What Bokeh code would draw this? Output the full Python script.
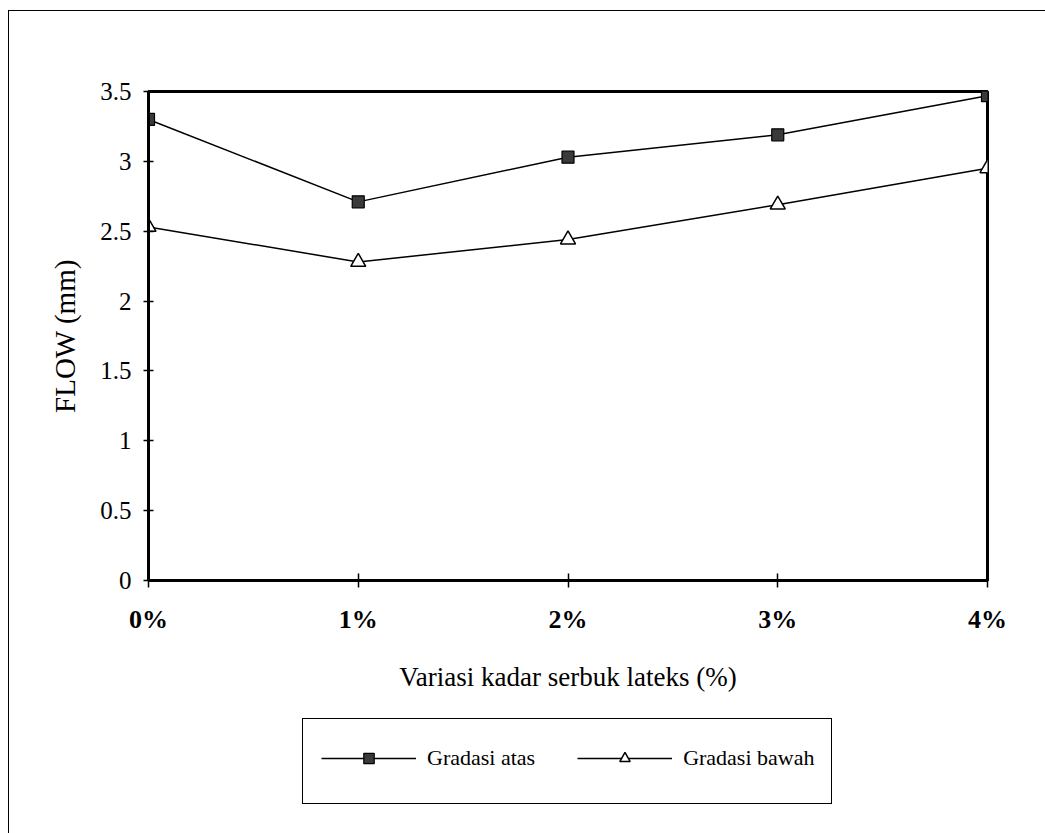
from bokeh.plotting import figure
from bokeh.layouts import column
from bokeh.models import Range1d, FixedTicker, Legend, LegendItem, InlineStyleSheet
from bokeh.embed import file_html
from bokeh.resources import INLINE

# ---- data ----
categories = ["0%", "1%", "2%", "3%", "4%"]
x_pos = [0, 1, 2, 3, 4]
gradasi_atas = [3.30, 2.71, 3.03, 3.19, 3.47]
gradasi_bawah = [2.53, 2.28, 2.44, 2.69, 2.95]
y_ticks = [0, 0.5, 1, 1.5, 2, 2.5, 3, 3.5]
y_tick_labels = ["0", "0.5", "1", "1.5", "2", "2.5", "3", "3.5"]
series_names = ["Gradasi atas", "Gradasi bawah"]

FONT = "Liberation Serif"
TOP_H = 700

p = figure(width=1045, height=TOP_H, output_backend="svg", toolbar_location=None,
           x_range=Range1d(0, 4), y_range=Range1d(0, 3.5),
           min_border_left=148, min_border_right=58,
           min_border_top=91, min_border_bottom=TOP_H - 580)

p.background_fill_color = "white"
p.border_fill_color = None
p.xgrid.visible = False
p.ygrid.visible = False
p.outline_line_color = "black"
p.outline_line_width = 3

# x axis
p.xaxis.ticker = FixedTicker(ticks=x_pos)
p.xaxis.major_label_overrides = {x: c for x, c in zip(x_pos, categories)}
p.xaxis.axis_label = "Variasi kadar serbuk lateks (%)"
p.xaxis.axis_line_width = 3
p.xaxis.major_tick_in = 7
p.xaxis.major_tick_out = 7
p.xaxis.major_tick_line_width = 1.5
p.xaxis.minor_tick_line_color = None
p.xaxis.major_label_standoff = 17
p.xaxis.major_label_text_font = FONT
p.xaxis.major_label_text_font_size = "26px"
p.xaxis.major_label_text_font_style = "bold"
p.xaxis.major_label_text_color = "black"
p.xaxis.axis_label_standoff = 25
p.xaxis.axis_label_text_font = FONT
p.xaxis.axis_label_text_font_size = "27px"
p.xaxis.axis_label_text_font_style = "normal"
p.xaxis.axis_label_text_color = "black"

# y axis
p.yaxis.ticker = FixedTicker(ticks=y_ticks)
p.yaxis.major_label_overrides = {t: l for t, l in zip(y_ticks, y_tick_labels)}
p.yaxis.axis_label = "FLOW (mm)"
p.yaxis.axis_line_width = 3
p.yaxis.major_tick_in = 5
p.yaxis.major_tick_out = 5
p.yaxis.major_tick_line_width = 1.5
p.yaxis.minor_tick_line_color = None
p.yaxis.major_label_standoff = 12
p.yaxis.major_label_text_font = FONT
p.yaxis.major_label_text_font_size = "25px"
p.yaxis.major_label_text_color = "black"
p.yaxis.axis_label_standoff = 16
p.yaxis.axis_label_text_font = FONT
p.yaxis.axis_label_text_font_size = "29px"
p.yaxis.axis_label_text_font_style = "normal"
p.yaxis.axis_label_text_color = "black"


def draw_series(fig):
    l1 = fig.line(x_pos, gradasi_atas, line_color="black", line_width=1.5)
    s1 = fig.scatter(x_pos, gradasi_atas, marker="square", size=12,
                     fill_color="#3a3a3a", line_color="black", line_width=1.2)
    l2 = fig.line(x_pos, gradasi_bawah, line_color="black", line_width=1.5)
    s2 = fig.scatter(x_pos, gradasi_bawah, marker="triangle", size=15,
                     fill_color="white", line_color="black", line_width=1.5)
    return (l1, s1), (l2, s2)


draw_series(p)

# ---- legend strip below the chart ----
leg_fig = figure(width=1045, height=833 - TOP_H, output_backend="svg", toolbar_location=None,
                 x_range=Range1d(100, 101), y_range=Range1d(100, 101),
                 x_axis_type=None, y_axis_type=None,
                 min_border=0, min_border_left=0, min_border_right=0,
                 min_border_top=0, min_border_bottom=0)
leg_fig.outline_line_color = None
leg_fig.xgrid.visible = False
leg_fig.ygrid.visible = False
leg_fig.border_fill_color = None
leg_fig.background_fill_color = None
r_atas, r_bawah = draw_series(leg_fig)

legend = Legend(items=[LegendItem(label=series_names[0], renderers=list(r_atas)),
                       LegendItem(label=series_names[1], renderers=list(r_bawah))],
                location=(173, (833 - TOP_H) - (771 - TOP_H)), orientation="horizontal",
                border_line_alpha=0, background_fill_alpha=0,
                padding=0, margin=0, spacing=42,
                glyph_width=95, glyph_height=26, label_height=26,
                label_standoff=11, label_text_font=FONT,
                label_text_font_size="22px", label_text_color="black")
leg_fig.add_layout(legend)

# legend frame, drawn as decoration of the legend strip
leg_fig.stylesheets = [InlineStyleSheet(css=f"""
:host {{ position: relative; }}
:host::after {{ content: ""; position: absolute; left: 302px; top: {718 - TOP_H}px; width: 530px; height: 86px;
  box-sizing: border-box; border: 1.5px solid #000; pointer-events: none; z-index: 5; }}
""")]

layout = column(p, leg_fig, spacing=0)
layout.stylesheets = [InlineStyleSheet(css="""
:host { position: relative; background: white; }
:host::before { content: ""; position: absolute; left: 8px; top: 10px; right: 0px; bottom: 0px;
  border-top: 1.5px solid #000; border-left: 1.5px solid #000; pointer-events: none; z-index: 5; }
""")]

open("out.html", "w").write(file_html(layout, INLINE))
